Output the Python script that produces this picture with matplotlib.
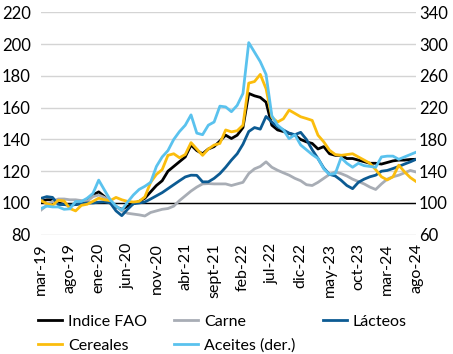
import numpy as np
import matplotlib
matplotlib.use("Agg")
import matplotlib.pyplot as plt

plt.rcParams['font.family'] = ['Lato', 'DejaVu Sans']

# monthly, mar-19 .. ago-24
tick_labels = ['mar-19', 'ago-19', 'ene-20', 'jun-20', 'nov-20', 'abr-21', 'sept-21',
               'feb-22', 'jul-22', 'dic-22', 'may-23', 'oct-23', 'mar-24', 'ago-24']

fao = [101, 102, 102, 100, 99, 99, 99, 100, 102, 105, 107, 104, 100, 97.5, 96, 98,
       99.5, 101, 103, 107, 111, 114, 120, 123, 126, 129, 136.5, 133, 131, 134, 135.5, 139,
       142.7, 140.6, 142.7, 147.5, 169, 167.5, 166.5, 163.5, 149, 146, 145, 143.8, 142.7, 140,
       138.5, 137.5, 134, 135.5, 131, 130, 130, 128, 128, 127, 126, 125, 125, 124.5,
       125.5, 126.5, 127, 127, 127.4, 127.5]

carne = [95.5, 98.5, 101, 102.5, 102.5, 102, 102, 101.5, 101, 104, 105, 103.5, 101, 98, 95, 93.5,
         93, 92.5, 91.8, 94, 95, 96, 96.5, 98, 101.5, 104.5, 107.5, 110, 112, 112.2, 112, 112,
         112, 111, 112, 113, 118.5, 121.5, 123, 125.9, 122.5, 120.6, 119, 117.5, 115.5, 114,
         111.5, 111, 113, 115.5, 118, 119.6, 118.5, 117, 115, 113.5, 112, 110, 108.5, 112,
         115, 116.5, 117.5, 119, 120.5, 119.5]

lacteos = [102.9, 104, 103.5, 99, 99, 98.5, 99, 99.5, 100, 100, 100.5, 100.7, 100, 95, 92, 96,
           99.5, 100, 100.6, 102.5, 104.5, 106.5, 109, 111.5, 114, 116.4, 117.5, 117.4, 113.3, 113.3,
           115.5, 118.5, 122.5, 127, 131, 137, 145, 147.5, 146.5, 154.5, 151, 148, 146, 144,
           143, 144.5, 140, 133.5, 128, 122, 118, 117, 114.3, 111, 109, 113, 115, 116.5, 117.5,
           120, 120.5, 121.7, 123, 124.5, 125.9, 127.5]

cereales = [101.5, 99.6, 98.5, 101.7, 101.3, 96.5, 95, 98.5, 99.2, 101, 103, 102, 101.5, 103.5, 102, 101,
            100.6, 101, 103.8, 113, 118, 121, 130, 131, 128.5, 130.5, 138, 134, 130, 134, 136.5,
            137.5, 146, 144.8, 145.5, 149, 175.5, 176.5, 181, 172, 154, 151, 153, 158.5, 156.4,
            154.3, 153.2, 152, 142.7, 138.5, 133.2, 130.5, 130, 130.5, 131, 129, 127, 125, 121,
            116.5, 114.5, 116.5, 123.8, 119.6, 116, 113.5]

# right axis
aceites = [93, 96, 95, 95, 92, 92.6, 101.8, 101.8, 106, 112, 128.8, 116.2, 104, 96, 91, 101,
           110, 117, 121, 126, 146, 158, 166, 180, 190, 198, 211, 188, 186, 198, 202, 222,
           221, 215, 223, 238, 302, 290, 278, 262, 210, 198, 192, 181, 186, 173, 167, 161,
           156, 143, 136, 137, 157, 150, 145, 150, 147, 146, 145, 158, 159, 159, 155, 158,
           161, 164]

x = np.arange(len(fao))

fig = plt.figure(figsize=(4.53, 3.54), dpi=100)
ax = fig.add_axes([0.0905, 0.337, 0.828, 0.6277])
ax2 = ax.twinx()

ax.set_ylim(80, 220)
ax.set_yticks(np.arange(80, 221, 20))
ax2.set_ylim(60, 340)
ax2.set_yticks(np.arange(60, 341, 40))
ax.set_xlim(0, len(fao) - 1)
ax.set_xticks(x[::5])
ax.set_xticklabels(tick_labels, rotation=90, va='top', ha='center')

ax.grid(axis='y', color='#d4d4d4', lw=1, zorder=0)
ax.axhline(100, color='black', lw=1, zorder=1.8)
for a in (ax, ax2):
    for s in a.spines.values():
        s.set_visible(False)
ax.tick_params(axis='y', length=0, pad=7.5, labelsize=12)
ax.tick_params(axis='x', length=0, pad=6, labelsize=11.5)
ax2.tick_params(axis='y', length=0, pad=2, labelsize=12)

lw = 2.0
l1, = ax.plot(x, fao, color='black', lw=lw, label='Indice FAO')
l2, = ax.plot(x, carne, color='#a8adb5', lw=lw, label='Carne')
l3, = ax.plot(x, lacteos, color='#0c5b93', lw=lw, label='Lácteos')
l4, = ax.plot(x, cereales, color='#fbbd0d', lw=lw, label='Cereales')
l5, = ax2.plot(x, aceites, color='#5ac2ee', lw=lw, label='Aceites (der.)')

order = [l1, l4, l2, l5, l3]
fig.legend(order, [h.get_label() for h in order],
           ncol=3, loc='upper left', bbox_to_anchor=(0.084, 0.112), frameon=False,
           fontsize=11.5, handlelength=1.5, handletextpad=0.38, columnspacing=1.7,
           labelspacing=0.62, borderpad=0, borderaxespad=0)

fig.savefig('out.png', dpi=100)
